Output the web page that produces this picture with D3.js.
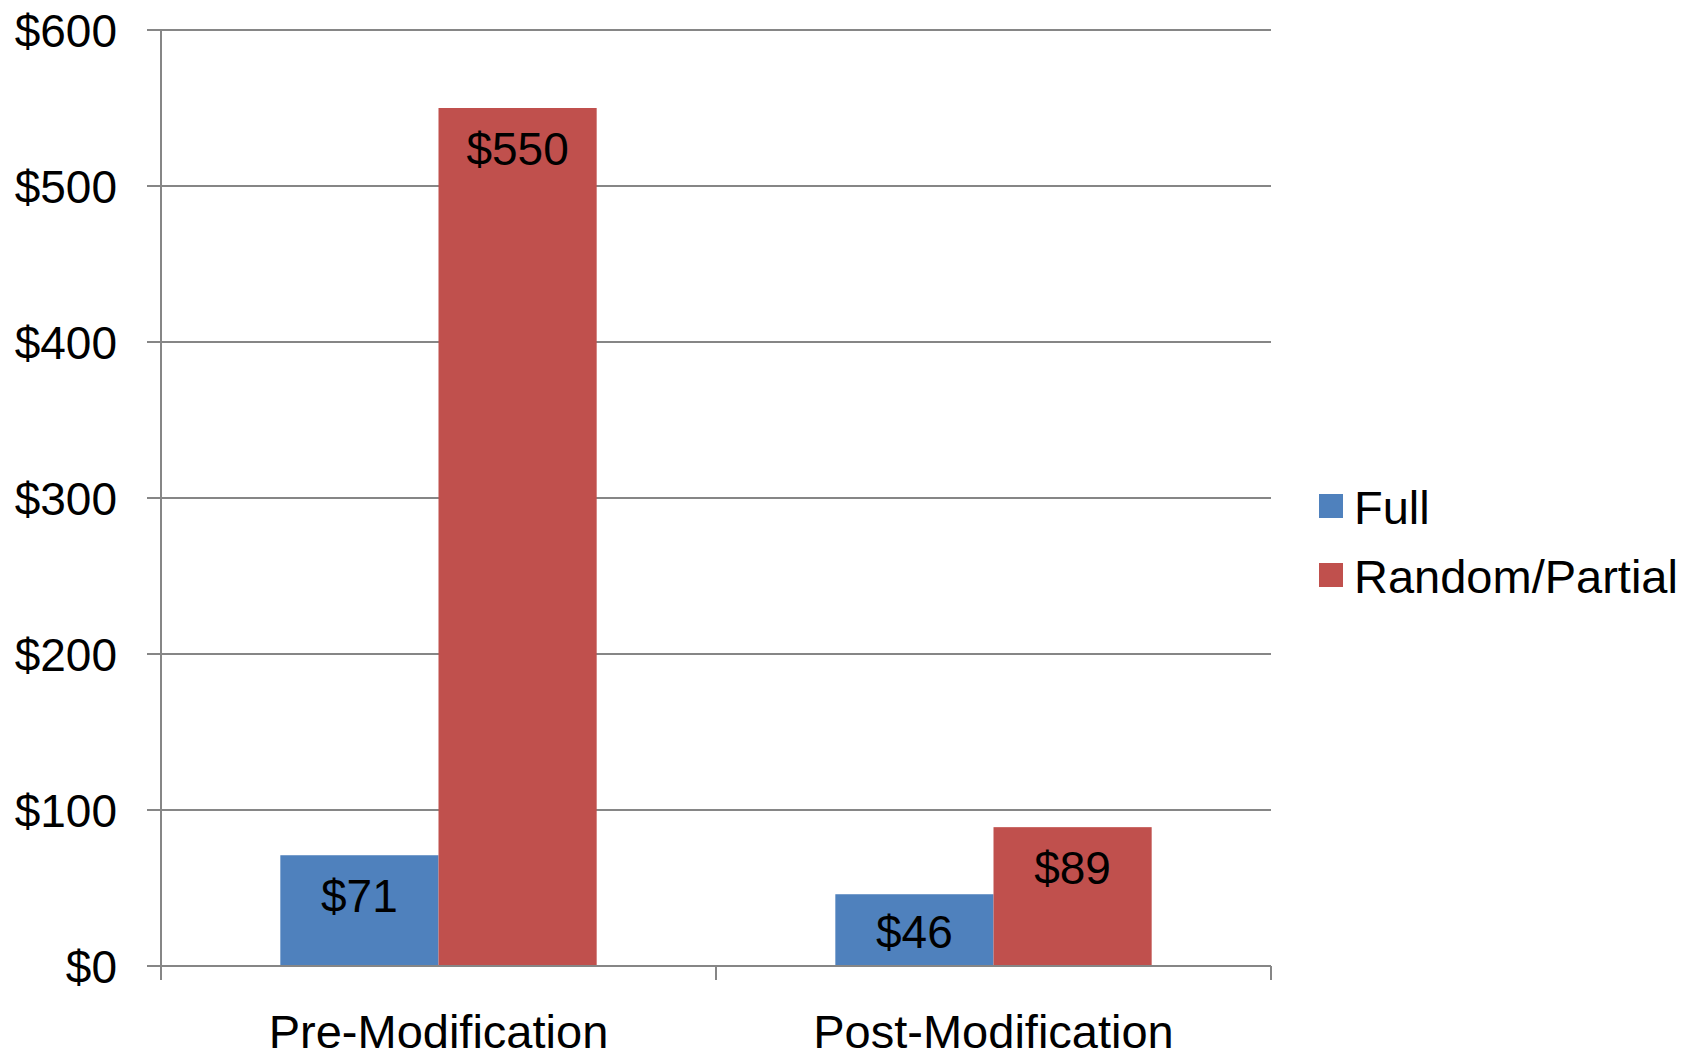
<!DOCTYPE html>
<html>
<head>
<meta charset="utf-8">
<script src="https://cdn.jsdelivr.net/npm/d3@7"></script>
<style>
  html, body { margin: 0; padding: 0; background: #fff; }
  svg { display: block; font-family: "Liberation Sans", Arial, sans-serif; }
</style>
</head>
<body>
<svg id="chart" width="1700" height="1058"></svg>
<script>
// Average cost per case, by modification stage and type
const categories = ["Pre-Modification", "Post-Modification"];
const seriesNames = ["Full", "Random/Partial"];
const fullValues = [71, 46];
const partialValues = [550, 89];
const yTicks = [0, 100, 200, 300, 400, 500, 600];
const seriesColors = ["#4F81BD", "#C0504D"];

const svg = d3.select("#chart");
const plot = { left: 161, right: 1271, top: 30, bottom: 966 };
const gridColor = "#868686";

const y = d3.scaleLinear().domain([0, 600]).range([plot.bottom, plot.top]);
const x = d3.scaleBand().domain(categories)
  .range([plot.left, plot.right]).paddingInner(0.43).paddingOuter(0.215);
const xs = d3.scaleBand().domain(seriesNames).range([0, x.bandwidth()]);

// Horizontal gridlines with left tick stubs
svg.append("g").selectAll("line").data(yTicks).join("line")
  .attr("x1", plot.left - 14).attr("x2", plot.right)
  .attr("y1", d => y(d)).attr("y2", d => y(d))
  .attr("stroke", gridColor).attr("stroke-width", 2);

// Y tick labels
svg.append("g").selectAll("text").data(yTicks).join("text")
  .attr("x", 117).attr("y", d => y(d)).attr("dy", "0.36em")
  .attr("text-anchor", "end").attr("font-size", 46).attr("fill", "#000")
  .text(d => "$" + d);

// Bars
const rows = categories.map((c, i) => ({ cat: c, vals: [fullValues[i], partialValues[i]] }));
const groups = svg.append("g").selectAll("g").data(rows).join("g")
  .attr("transform", d => `translate(${x(d.cat)},0)`);
groups.selectAll("rect").data(d => d.vals.map((v, j) => ({ v, s: seriesNames[j], j })))
  .join("rect")
  .attr("x", d => xs(d.s)).attr("width", xs.bandwidth())
  .attr("y", d => y(d.v)).attr("height", d => y(0) - y(d.v))
  .attr("fill", d => seriesColors[d.j]);
groups.selectAll("text").data(d => d.vals.map((v, j) => ({ v, s: seriesNames[j] })))
  .join("text")
  .attr("x", d => xs(d.s) + xs.bandwidth() / 2)
  .attr("y", d => Math.min(y(d.v) + 57, y(0) - 18))
  .attr("text-anchor", "middle").attr("font-size", 46).attr("fill", "#000")
  .text(d => "$" + d.v);

// Axes lines
svg.append("line").attr("x1", plot.left).attr("x2", plot.left)
  .attr("y1", plot.top).attr("y2", plot.bottom + 14)
  .attr("stroke", gridColor).attr("stroke-width", 2);
svg.append("line").attr("x1", plot.left - 14).attr("x2", plot.right)
  .attr("y1", plot.bottom).attr("y2", plot.bottom)
  .attr("stroke", gridColor).attr("stroke-width", 2);
const xTickPos = [plot.left, (plot.left + plot.right) / 2, plot.right];
svg.append("g").selectAll("line").data(xTickPos).join("line")
  .attr("x1", d => d).attr("x2", d => d)
  .attr("y1", plot.bottom).attr("y2", plot.bottom + 14)
  .attr("stroke", gridColor).attr("stroke-width", 2);

// Category labels
svg.append("g").selectAll("text").data(categories).join("text")
  .attr("x", d => x(d) + x.bandwidth() / 2).attr("y", 1048)
  .attr("text-anchor", "middle").attr("font-size", 47).attr("fill", "#000")
  .text(d => d);

// Legend
const legend = svg.append("g").selectAll("g").data(seriesNames).join("g")
  .attr("transform", (d, i) => `translate(1319,${494 + i * 69})`);
legend.append("rect").attr("width", 24).attr("height", 24)
  .attr("fill", (d, i) => seriesColors[i]);
legend.append("text").attr("x", 35).attr("y", 30)
  .attr("font-size", 47).attr("fill", "#000").text(d => d);
</script>
</body>
</html>
